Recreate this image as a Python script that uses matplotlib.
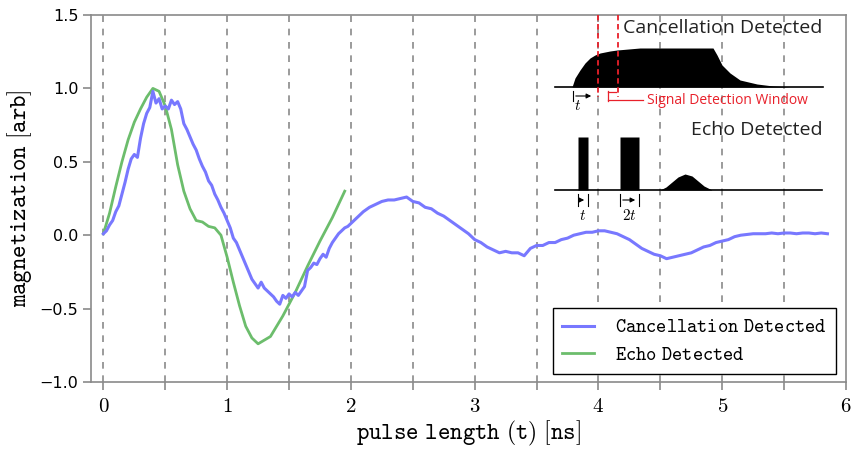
import numpy as np
import matplotlib
matplotlib.use("Agg")
import matplotlib.pyplot as plt
from matplotlib.ticker import FixedLocator

plt.rcParams['mathtext.fontset'] = 'cm'

# ---------------- data ----------------
cancel_t = np.round(np.concatenate([np.arange(0, 1.999, 0.025),
                                    np.arange(2.0, 5.851, 0.05)]), 3)
cancel_v = [0.01, 0.03, 0.07, 0.10, 0.16, 0.20, 0.28, 0.36, 0.45, 0.52,
            0.55, 0.53, 0.66, 0.76, 0.83, 0.87, 0.98, 0.90, 0.93, 0.86,
            0.88, 0.86, 0.92, 0.89, 0.91, 0.86, 0.76, 0.72, 0.67, 0.62,
            0.58, 0.52, 0.47, 0.43, 0.37, 0.34, 0.28, 0.24, 0.19, 0.15,
            0.10, 0.05, -0.02, -0.05, -0.10, -0.15, -0.20, -0.25, -0.30, -0.33,
            -0.36, -0.32, -0.36, -0.38, -0.40, -0.42, -0.45, -0.47, -0.41, -0.43,
            -0.40, -0.42, -0.39, -0.41, -0.38, -0.35, -0.24, -0.22, -0.19, -0.20,
            -0.16, -0.13, -0.15, -0.09, -0.05, -0.02, 0.01, 0.03, 0.05, 0.06,
            # from 2.00 ns, 0.05 ns spacing
            0.08, 0.12, 0.16, 0.19, 0.21, 0.23, 0.24, 0.24, 0.25, 0.26,
            0.23, 0.22, 0.19, 0.18, 0.15, 0.13, 0.10, 0.07, 0.04, 0.01,
            -0.03, -0.05, -0.08, -0.10, -0.12, -0.11, -0.12, -0.12, -0.14, -0.09,
            -0.07, -0.07, -0.05, -0.05, -0.03, -0.02, 0.00, 0.01, 0.02, 0.02,
            0.03, 0.03, 0.02, 0.01, -0.01, -0.03, -0.06, -0.09, -0.11, -0.13,
            -0.14, -0.16, -0.15, -0.14, -0.13, -0.12, -0.10, -0.08, -0.07, -0.05,
            -0.04, -0.03, -0.01, 0.00, 0.005, 0.01, 0.01, 0.01, 0.015, 0.01,
            0.015, 0.015, 0.01, 0.015, 0.015, 0.01, 0.015, 0.01]

echo_t = [0, 0.05, 0.10, 0.15, 0.20, 0.25, 0.30, 0.35, 0.40, 0.45, 0.50, 0.55,
          0.60, 0.65, 0.70, 0.75, 0.80, 0.85, 0.90, 0.95, 1.00, 1.05, 1.10, 1.15,
          1.20, 1.25, 1.35, 1.45, 1.55, 1.65, 1.75, 1.85, 1.95]
echo_v = [0.01, 0.15, 0.33, 0.50, 0.65, 0.77, 0.86, 0.94, 1.00, 0.98, 0.88, 0.72,
          0.48, 0.30, 0.18, 0.10, 0.09, 0.06, 0.05, 0.00, -0.15, -0.32, -0.48, -0.62,
          -0.70, -0.74, -0.69, -0.55, -0.39, -0.21, -0.04, 0.12, 0.30]

x_ticks = [0, 0.5, 1, 1.5, 2, 2.5, 3, 3.5, 4, 4.5, 5, 5.5, 6]
x_ticklabels = ['0', '', '1', '', '2', '', '3', '', '4', '', '5', '', '6']
y_ticks = [-1.0, -0.5, 0.0, 0.5, 1.0, 1.5]
y_ticklabels = ['\u22121.0', '\u22120.5', '0.0', '0.5', '1.0', '1.5']
grid_x = [0, 0.5, 1, 1.5, 2, 2.5, 3, 3.5, 4, 4.5, 5, 5.5]

# schematic inset (coordinates of the drawing, in figure pixels)
cd_env_x = [555, 572, 575, 580, 585, 590, 595, 600, 610, 617, 640, 680, 713,
            717, 722, 730, 740, 757, 773, 790, 823]
cd_env_y = [87, 87, 78, 70, 63, 58, 55, 53, 51, 50, 48, 48, 48,
            55, 65, 73, 80, 84, 86, 87, 87]
ed_x = [555, 578, 578, 588, 588, 620, 620, 639, 639, 660, 666, 672, 678, 685,
        692, 698, 704, 712, 822]
ed_y = [190, 190, 137, 137, 190, 190, 137, 137, 190, 190, 187, 182, 177, 174,
        176, 181, 186, 190, 190]

# ---------------- figure ----------------
fig = plt.figure(figsize=(8.53, 4.49), dpi=100)
ax = fig.add_axes([91/853, 1-382/449, (846-91)/853, (382-15)/449])

for gx in grid_x:
    ax.axvline(gx, color='#8a8a8a', lw=1.2, ls=(0, (4, 4)), zorder=1)

ax.plot(cancel_t, cancel_v, color='#7878ff', lw=2.2, zorder=3,
        label=r'$\mathtt{Cancellation\ Detected}$')
ax.plot(echo_t, echo_v, color='#6cbd6c', lw=2.0, zorder=2,
        label=r'$\mathtt{Echo\ Detected}$')

ax.set_xlim(-0.1, 6.0)
ax.set_ylim(-1.0, 1.5)
ax.xaxis.set_major_locator(FixedLocator(x_ticks))
ax.set_xticklabels([r'$\mathtt{%s}$' % s if s else '' for s in x_ticklabels])
ax.set_yticks(y_ticks)
ax.set_yticklabels(y_ticklabels)
ax.tick_params(axis='y', direction='out', length=6, width=1.2, color='#8a8a8a',
               labelsize=11.5, right=False, pad=3)
ax.tick_params(axis='x', direction='out', length=6, width=1.2, color='#8a8a8a',
               labelsize=15, top=False, pad=4)
for sp in ax.spines.values():
    sp.set_color('#8a8a8a')
    sp.set_linewidth(1.2)

ax.set_xlabel(r'$\mathtt{pulse\ length}\ \mathrm{(}\mathtt{t}\mathrm{)}\ \mathrm{[}\mathtt{ns}\mathrm{]}$',
              fontsize=17, labelpad=2)
ax.set_ylabel(r'$\mathtt{magnetization}\ \mathrm{[}\mathtt{arb}\mathrm{]}$',
              fontsize=17, labelpad=4)

leg = ax.legend(loc='lower right', bbox_to_anchor=(0.987, 0.022), borderaxespad=0,
                fontsize=14, fancybox=False, edgecolor='black', framealpha=1,
                handlelength=1.6, handletextpad=1.1, labelspacing=0.45, borderpad=0.5)
leg.get_frame().set_linewidth(1.0)

# ---------------- schematic ----------------
sx = fig.add_axes([0, 0, 1, 1], zorder=5)
sx.set_xlim(0, 853)
sx.set_ylim(449, 0)
sx.axis('off')
sx.patch.set_visible(False)

sx.fill_between(cd_env_x, cd_env_y, 87, color='black', lw=0)
sx.plot([555, 823], [87, 87], color='black', lw=1.2)
for rx in [598, 618]:
    sx.plot([rx, rx], [15, 97], color='#e8202a', lw=1.3, ls=(0, (3, 2)))
sx.text(822, 28, 'Cancellation Detected', fontsize=14, family='Open Sans',
        ha='right', va='center', color='#222222')
sx.text(647, 101, 'Signal Detection Window', fontsize=10, family='Open Sans',
        ha='left', va='center', color='#e8202a')
sx.plot([573, 573], [91, 101], color='black', lw=0.8)
sx.annotate('', xy=(594, 96), xytext=(573, 96),
            arrowprops=dict(arrowstyle='-|>', color='black', lw=0.8, mutation_scale=7))
sx.text(578, 106, r'$t$', fontsize=11, ha='center', va='center')
sx.plot([608, 608], [91, 101], color='#e8202a', lw=0.9)
sx.plot([608, 616], [92, 92], color='#e8202a', lw=0.9)
sx.plot([608, 643], [100, 100], color='#e8202a', lw=0.9)

sx.fill_between(ed_x, ed_y, 190, color='black', lw=0)
sx.plot([555, 822], [190, 190], color='black', lw=1.2)
sx.text(823, 130, 'Echo Detected', fontsize=14, family='Open Sans',
        ha='right', va='center', color='#222222')
for a, b in [(578, 588), (620, 639)]:
    sx.plot([a, a], [194, 206], color='black', lw=0.8)
    sx.plot([b, b], [194, 206], color='black', lw=0.8)
    sx.annotate('', xy=(b - 1, 200), xytext=(a, 200),
                arrowprops=dict(arrowstyle='-|>', color='black', lw=0.8, mutation_scale=7))
sx.text(583, 215, r'$t$', fontsize=11, ha='center', va='center')
sx.text(629, 215, r'$2t$', fontsize=11, ha='center', va='center')

fig.savefig('out.png', dpi=100)
